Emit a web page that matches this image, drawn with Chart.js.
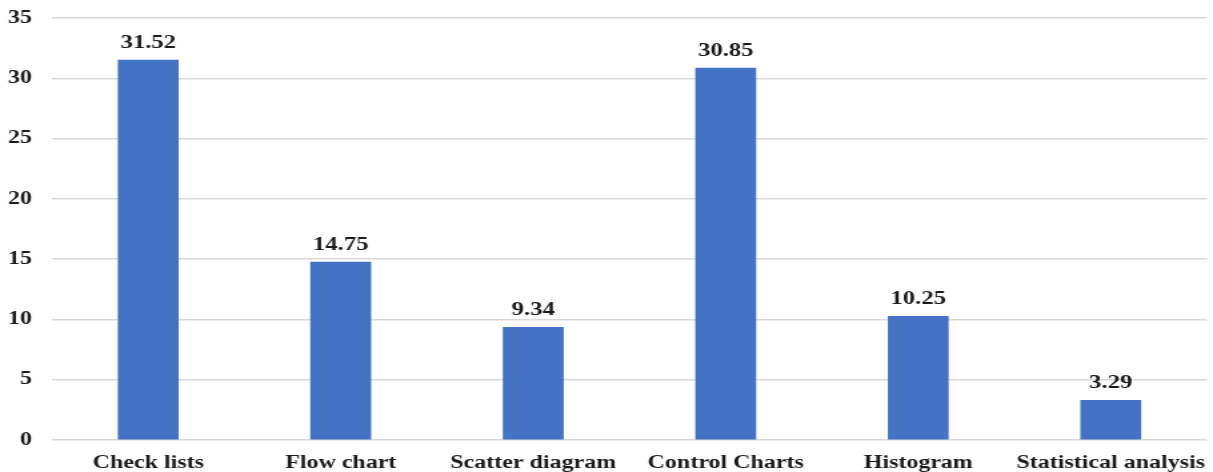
<!DOCTYPE html>
<html>
<head>
<meta charset="utf-8">
<script src="https://cdn.jsdelivr.net/npm/chart.js@4.4.1/dist/chart.umd.min.js"></script>
<style>
  html, body { margin: 0; padding: 0; background: #ffffff; overflow: hidden; }
  #wrap { width: 1213px; height: 472px; }
  /* the drawing surface is widened on screen, giving the broad lettering */
  #c { width: 1213px; height: 472px; display: block; }
</style>
</head>
<body>
<div id="wrap"><canvas id="c" width="910" height="472" style="width:1213px;height:472px"></canvas></div>
<script>
// Quality tools and their usage shares
const categories = ["Check lists", "Flow chart", "Scatter diagram", "Control Charts", "Histogram", "Statistical analysis"];
const values = [31.52, 14.75, 9.34, 30.85, 10.25, 3.29];
const yTicks = [0, 5, 10, 15, 20, 25, 30, 35];

const serif = "'Liberation Serif', 'Times New Roman', serif";
const ink = "#1a1a1a";

// Writes each bar's value above it
const valueLabels = {
  id: "valueLabels",
  afterDatasetsDraw(chart) {
    const ctx = chart.ctx;
    const meta = chart.getDatasetMeta(0);
    ctx.save();
    ctx.font = "bold 18.5px " + serif;
    ctx.fillStyle = ink;
    ctx.textAlign = "center";
    ctx.textBaseline = "alphabetic";
    meta.data.forEach((bar, i) => {
      ctx.fillText(values[i].toFixed(2), bar.x, bar.y - 12);
    });
    ctx.restore();
  }
};

new Chart(document.getElementById("c"), {
  type: "bar",
  data: {
    labels: categories,
    datasets: [{
      data: values,
      backgroundColor: "#4472C4",
      borderWidth: 0,
      barThickness: 45
    }]
  },
  options: {
    responsive: false,
    animation: false,
    devicePixelRatio: 1,
    layout: { padding: { top: 18, right: 4.5, left: 0, bottom: 0 } },
    plugins: {
      legend: { display: false },
      tooltip: { enabled: false }
    },
    scales: {
      x: {
        grid: { display: false, drawTicks: false },
        border: { display: false },
        ticks: {
          color: ink,
          font: { family: serif, size: 18, weight: "bold" },
          padding: 13,
          maxRotation: 0,
          autoSkip: false
        },
        afterFit(scale) {
          scale.height = 32;
          scale.paddingLeft = 0;
          scale.paddingRight = 0;
        }
      },
      y: {
        min: 0,
        max: 35,
        afterBuildTicks(scale) { scale.ticks = yTicks.map(v => ({ value: v })); },
        grid: { color: "#d9d9d9", lineWidth: 1.5, drawTicks: false },
        border: { display: false },
        ticks: {
          color: ink,
          font: { family: serif, size: 18, weight: "bold" },
          padding: 15
        },
        afterFit(scale) {
          scale.width = 39;
          scale.paddingTop = 0;
          scale.paddingBottom = 0;
        }
      }
    }
  },
  plugins: [valueLabels]
});
</script>
</body>
</html>
